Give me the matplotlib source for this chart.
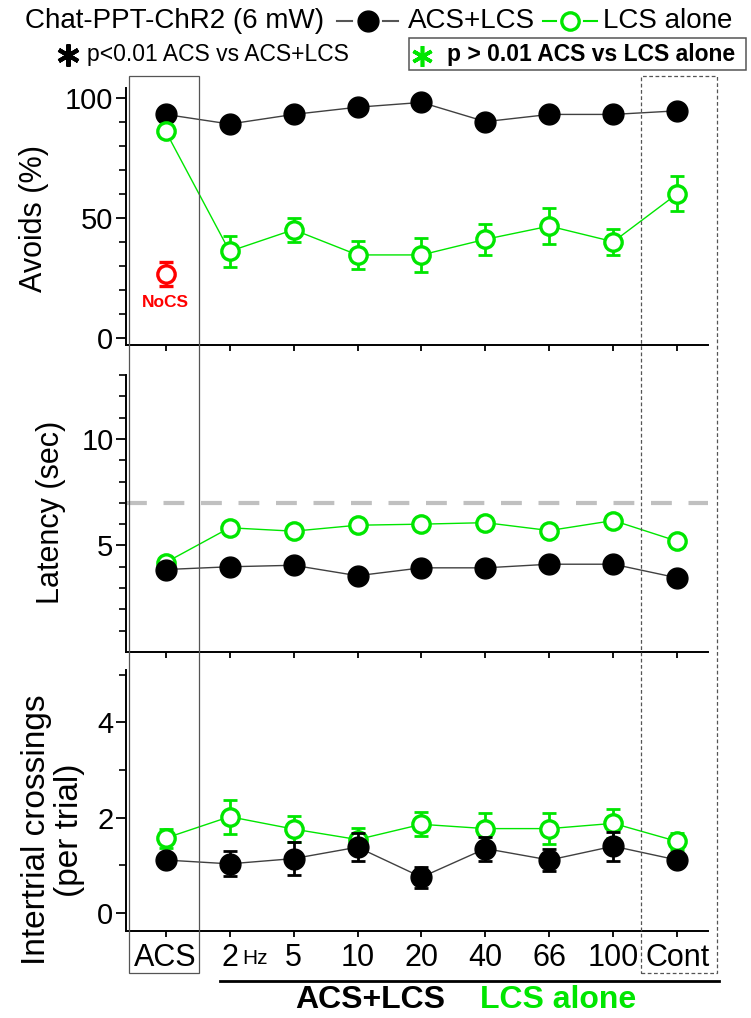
import matplotlib.pyplot as plt
from matplotlib.lines import Line2D
from matplotlib.patches import Rectangle

plt.rcParams['font.family'] = ['Liberation Sans', 'DejaVu Sans']

# Data
x_labels = ['ACS', '2', '5', '10', '20', '40', '66', '100', 'Cont']

avoid_acs_lcs = [93, 89, 93, 96, 98, 90, 93, 93, 94.5]
avoid_acs_lcs_err = [1.5, 2, 1.5, 1.5, 1.5, 2, 1.5, 1.5, 1.5]
avoid_lcs = [86, 36, 45, 34.5, 34.5, 41, 46.5, 40, 60]
avoid_lcs_err = [2, 6.5, 5, 5.7, 7, 6.4, 7.4, 5.5, 7.3]
avoid_nocs = 26.5
avoid_nocs_err = 5

lat_acs_lcs = [3.87, 4.0, 4.07, 3.58, 3.95, 3.95, 4.12, 4.12, 3.48]
lat_acs_lcs_err = [0.12, 0.1, 0.12, 0.1, 0.1, 0.12, 0.12, 0.12, 0.1]
lat_lcs = [4.2, 5.83, 5.67, 5.95, 6.0, 6.07, 5.7, 6.17, 5.2]
lat_lcs_err = [0.15, 0.15, 0.15, 0.15, 0.15, 0.15, 0.15, 0.15, 0.15]
lat_cutoff = 7

cross_acs_lcs = [1.11, 1.03, 1.14, 1.38, 0.75, 1.35, 1.11, 1.4, 1.11]
cross_acs_lcs_err = [0.08, 0.26, 0.34, 0.3, 0.22, 0.25, 0.24, 0.3, 0.08]
cross_lcs = [1.57, 2.02, 1.76, 1.54, 1.86, 1.77, 1.77, 1.88, 1.5]
cross_lcs_err = [0.2, 0.36, 0.28, 0.25, 0.25, 0.32, 0.32, 0.3, 0.18]

GREEN = '#00e600'
W, H = 751, 1018


def fx(px):
    return px / W


def fy(py):
    return 1 - py / H


fig = plt.figure(figsize=(7.51, 10.18), dpi=100)

left, width = fx(126), (708 - 126) / W
ax1 = fig.add_axes([left, fy(345), width, (345 - 88) / H])
ax2 = fig.add_axes([left, fy(652), width, (652 - 375) / H])
ax3 = fig.add_axes([left, fy(931), width, (931 - 670) / H])

xs = list(range(len(x_labels)))


def draw_series(ax, y, err, color, filled, z):
    ax.errorbar(xs, y, yerr=err, fmt='none', ecolor=color, elinewidth=2,
                capsize=5, capthick=2, zorder=z)
    line_color = '#404040' if filled else color
    ax.plot(xs, y, color=line_color, lw=1, zorder=z - 1)
    if filled:
        ax.plot(xs, y, 'o', ms=15, mfc='black', mec='black', zorder=z)
    else:
        ax.plot(xs, y, 'o', ms=12.5, mfc='white', mec=color, mew=2.4, zorder=z)


# Avoids
draw_series(ax1, avoid_acs_lcs, avoid_acs_lcs_err, 'black', True, 3)
draw_series(ax1, avoid_lcs, avoid_lcs_err, GREEN, False, 5)
ax1.errorbar([0], [avoid_nocs], yerr=[avoid_nocs_err], fmt='o', ms=12.5,
             mfc='white', mec='red', mew=2.4, ecolor='red', elinewidth=2,
             capsize=5, capthick=2, zorder=5)
ax1.text(0, 14.5, 'NoCS', color='red', fontsize=12.5, fontweight='bold',
         ha='center', va='center')
ax1.set_ylim(-3, 104)
ax1.set_yticks([0, 50, 100])
ax1.set_yticks(range(10, 100, 10), minor=True)

# Latency
ax2.axhline(lat_cutoff, color='#c0c0c0', lw=3, dashes=(5, 4), zorder=1)
draw_series(ax2, lat_lcs, lat_lcs_err, GREEN, False, 3)
draw_series(ax2, lat_acs_lcs, lat_acs_lcs_err, 'black', True, 5)
ax2.set_ylim(0, 13)
ax2.set_yticks([5, 10])
ax2.set_yticks([1, 2, 3, 4, 6, 7, 8, 9, 11, 12, 13], minor=True)

# Intertrial crossings
draw_series(ax3, cross_lcs, cross_lcs_err, GREEN, False, 3)
draw_series(ax3, cross_acs_lcs, cross_acs_lcs_err, 'black', True, 5)
ax3.set_ylim(-0.38, 5.1)
ax3.set_yticks([0, 2, 4])
ax3.set_yticks([1, 3, 5], minor=True)

for ax in (ax1, ax2, ax3):
    ax.set_xlim(-0.62, 8.48)
    ax.set_xticks(xs)
    ax.spines['top'].set_visible(False)
    ax.spines['right'].set_visible(False)
    ax.spines['left'].set_linewidth(1.4)
    ax.spines['bottom'].set_linewidth(1.4)
    ax.tick_params(axis='both', which='major', direction='out', width=1.3)
    ax.tick_params(axis='y', which='major', length=7, pad=2, labelsize=21)
    ax.tick_params(axis='y', which='minor', direction='out', length=5, width=1.2)
    ax.tick_params(axis='x', length=4, pad=5, labelsize=22)
    ax.patch.set_alpha(0)

ax1.set_xticklabels([])
ax2.set_xticklabels([])
ax3.set_xticklabels(x_labels)

# small "Hz" after the 2 tick label, sitting on its baseline
fig.canvas.draw()
bb = ax3.get_xticklabels()[1].get_window_extent()
fig.text(bb.x1 / W + fx(4), bb.y0 / H + 5.0 / H, 'Hz', fontsize=15,
         ha='left', va='bottom')

# Axis labels
fig.text(fx(34), fy(219), 'Avoids (%)', rotation=90, fontsize=22,
         ha='center', va='center')
fig.text(fx(51), fy(512), 'Latency (sec)', rotation=90, fontsize=22,
         ha='center', va='center')
fig.text(fx(53), fy(830), 'Intertrial crossings\n(per trial)', rotation=90,
         fontsize=24, ha='center', va='center', linespacing=1.05)

# Boxes around ACS and Cont columns
fig.add_artist(Rectangle((fx(129), fy(973)), (199 - 129) / W, (973 - 76) / H,
                         transform=fig.transFigure, fill=False,
                         edgecolor='#555555', lw=0.9, zorder=6))
fig.add_artist(Rectangle((fx(641), fy(973)), (717 - 641) / W, (973 - 76) / H,
                         transform=fig.transFigure, fill=False,
                         edgecolor='#555555', lw=0.9, ls=(0, (3, 2)), zorder=6))

# Header legend
fig.text(fx(25), fy(21), 'Chat-PPT-ChR2 (6 mW)', fontsize=20, va='center')
fig.add_artist(Line2D([fx(337), fx(352)], [fy(21), fy(21)], color='#555555',
                      lw=1.5, transform=fig.transFigure))
fig.add_artist(Line2D([fx(383), fx(398)], [fy(21), fy(21)], color='#555555',
                      lw=1.5, transform=fig.transFigure))
fig.add_artist(Line2D([fx(368)], [fy(21)], marker='o', ms=15, mfc='black',
                      mec='black', transform=fig.transFigure))
fig.text(fx(408), fy(21), 'ACS+LCS', fontsize=20, va='center')
fig.add_artist(Line2D([fx(543), fx(556)], [fy(21), fy(21)], color=GREEN,
                      lw=1.5, transform=fig.transFigure))
fig.add_artist(Line2D([fx(584), fx(597)], [fy(21), fy(21)], color=GREEN,
                      lw=1.5, transform=fig.transFigure))
fig.add_artist(Line2D([fx(570)], [fy(21)], marker='o', ms=12.5, mfc='white',
                      mec=GREEN, mew=2.4, transform=fig.transFigure))
fig.text(fx(603), fy(21), 'LCS alone', fontsize=20, va='center')

fig.add_artist(Line2D([fx(68)], [fy(55)], marker=(6, 2, 0), ms=16,
                      mec='black', mew=3, transform=fig.transFigure))
fig.text(fx(87), fy(55), 'p<0.01 ACS vs ACS+LCS', fontsize=16.5, va='center')
fig.add_artist(Rectangle((fx(409), fy(70)), (746 - 409) / W, (70 - 38) / H,
                         transform=fig.transFigure, fill=False,
                         edgecolor='#555555', lw=1.1))
fig.add_artist(Line2D([fx(422)], [fy(56)], marker=(6, 2, 0), ms=15,
                      mec=GREEN, mew=2.6, transform=fig.transFigure))
fig.text(fx(447), fy(55), 'p > 0.01 ACS vs LCS alone', fontsize=16.5,
         fontweight='bold', va='center')

# Bottom group label
fig.add_artist(Line2D([fx(220), fx(719)], [fy(981), fy(981)], color='black',
                      lw=2, transform=fig.transFigure))
fig.text(fx(295), fy(1000), 'ACS+LCS', fontsize=23, fontweight='bold',
         va='center')
fig.text(fx(480), fy(1000), 'LCS alone', fontsize=23, fontweight='bold',
         color=GREEN, va='center')

fig.savefig('out.png', dpi=100)
